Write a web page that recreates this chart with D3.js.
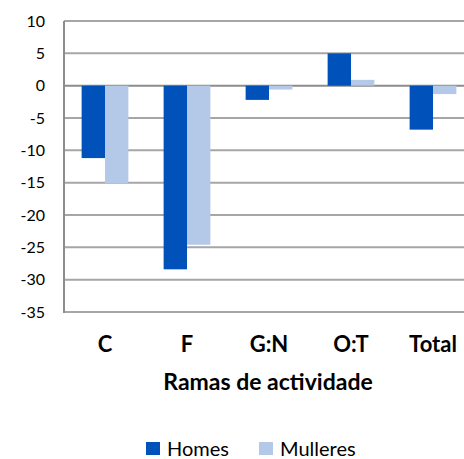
<!DOCTYPE html>
<html>
<head>
<meta charset="utf-8">
<script src="https://cdn.jsdelivr.net/npm/d3@7"></script>
<style>
  body { margin: 0; background: #fff; }
  svg { display: block; font-family: Lato, sans-serif; }
</style>
</head>
<body>
<svg width="464" height="459"></svg>
<script>
let categories = ["C", "F", "G:N", "O:T", "Total"];
let series_names = ["Homes", "Mulleres"];
let homes = [-11.2, -28.4, -2.2, 5.0, -6.8];
let mulleres = [-15.1, -24.6, -0.6, 0.9, -1.3];
let y_ticks = [10, 5, 0, -5, -10, -15, -20, -25, -30, -35];
let series_colors = ["#0052BA", "#B4C8E8"];

var svg = d3.select("svg");
var margin = {top: 21, left: 64};
var plot_width = 410, plot_height = 291;

var x_axis = d3.scaleBand().domain(categories).range([0, plot_width]).paddingInner(0.43).paddingOuter(0.215);
var x_inner = d3.scaleBand().domain(series_names).range([0, x_axis.bandwidth()]);
var y_axis = d3.scaleLinear().domain([-35, 10]).range([plot_height, 0]);

var g = svg.append("g")
    .attr("transform", "translate(" + margin.left + "," + margin.top + ")");

// gridlines
g.append("g")
    .selectAll("line")
    .data(y_ticks)
    .enter().append("line")
      .attr("x1", 0)
      .attr("x2", plot_width)
      .attr("y1", d => y_axis(d))
      .attr("y2", d => y_axis(d))
      .attr("stroke", d => d == 0 ? "#8c8c8c" : "#a6a6a6")
      .attr("stroke-width", 2);

// y labels
g.append("g")
    .selectAll("text")
    .data(y_ticks)
    .enter().append("text")
      .attr("x", -19)
      .attr("y", d => y_axis(d))
      .attr("dy", "0.35em")
      .attr("text-anchor", "end")
      .attr("font-size", "16px")
      .attr("fill", "#000")
      .text(d => d);

// bars
let bar_data = [];
for (var i = 0; i < categories.length; i++) {
  bar_data.push([categories[i], series_names[0], homes[i]]);
  bar_data.push([categories[i], series_names[1], mulleres[i]]);
}

g.append("g")
    .selectAll("rect")
    .data(bar_data)
    .enter().append("rect")
      .attr("x", d => x_axis(d[0]) + x_inner(d[1]))
      .attr("y", d => y_axis(Math.max(0, d[2])))
      .attr("width", x_inner.bandwidth())
      .attr("height", d => Math.abs(y_axis(d[2]) - y_axis(0)))
      .attr("fill", d => d[1] == "Homes" ? series_colors[0] : series_colors[1]);

// left axis line
g.append("line")
    .attr("x1", 0).attr("x2", 0)
    .attr("y1", 0).attr("y2", plot_height + 1)
    .attr("stroke", "#8c8c8c")
    .attr("stroke-width", 2);

// x labels
g.append("g")
    .selectAll("text")
    .data(categories)
    .enter().append("text")
      .attr("x", d => x_axis(d) + x_axis.bandwidth() / 2)
      .attr("y", 323)
      .attr("dy", "0.35em")
      .attr("text-anchor", "middle")
      .attr("font-size", "22px")
      .attr("font-weight", "bold")
      .text(d => d);

svg.append("text")
    .attr("x", 268)
    .attr("y", 382)
    .attr("dy", "0.35em")
    .attr("text-anchor", "middle")
    .attr("font-size", "23px")
    .attr("font-weight", "bold")
    .text("Ramas de actividade");

// legend
var legend_x = [146, 259];
var legend = svg.append("g")
    .selectAll("g")
    .data(series_names)
    .enter().append("g")
      .attr("transform", (d, i) => "translate(" + legend_x[i] + ",442)");

legend.append("rect")
    .attr("width", 14)
    .attr("height", 13)
    .attr("fill", (d, i) => series_colors[i]);

legend.append("text")
    .attr("x", 21)
    .attr("y", 6.5)
    .attr("dy", "0.35em")
    .attr("font-size", "20px")
    .text(d => d);
</script>
</body>
</html>
